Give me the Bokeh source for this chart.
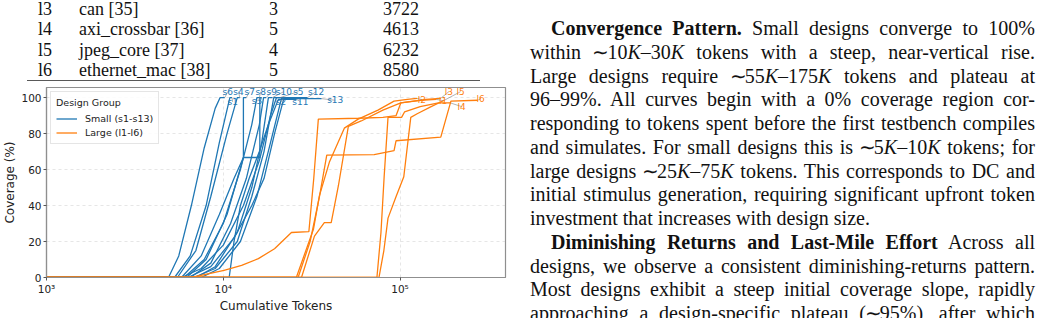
from bokeh.plotting import figure
from bokeh.models import Div, Legend, LegendItem, FixedTicker
from bokeh.layouts import row, column
from bokeh.embed import file_html
from bokeh.resources import INLINE
from bokeh.core.properties import value

# ---------------------------------------------------------------------------
# Coverage traces: cumulative tokens (thousands) vs. functional coverage (%)
# ---------------------------------------------------------------------------
small_names = ["s1", "s2", "s3", "s4", "s5", "s6", "s7", "s8", "s9", "s10", "s11", "s12", "s13"]
large_names = ["l1", "l2", "l3", "l4", "l5", "l6"]

tokens_k = {
    "s1":  [1, 5.3, 6.5, 8.0, 9.5, 10.9, 11.2],
    "s2":  [1, 7.5, 9.5, 12.5, 15.5, 18.5, 21.4, 22.0],
    "s3":  [1, 6.2, 8.0, 10.5, 13.0, 16.1, 16.1, 16.5],
    "s4":  [1, 5.5, 7.0, 8.5, 10.5, 12.0, 12.4],
    "s5":  [1, 6.8, 9.0, 12.0, 14.5, 17.0, 19.3, 21.0],
    "s6":  [1, 4.9, 5.6, 6.6, 7.8, 9.0, 9.6, 10.2],
    "s7":  [1, 5.8, 7.5, 9.5, 11.5, 13.0, 13.0, 13.5],
    "s8":  [1, 6.0, 7.8, 10.0, 12.5, 14.5, 15.5, 16.0],
    "s9":  [1, 6.5, 8.5, 11.0, 13.5, 16.0, 16.9, 17.5],
    "s10": [1, 7.0, 9.0, 12.0, 14.5, 16.5, 18.0, 19.0],
    "s11": [1, 10.8, 11.5, 12.5, 14.0, 16.0, 18.0, 20.5, 26.0],
    "s12": [1, 5.8, 7.5, 10.0, 13.0, 16.0, 18.5, 20.0, 30.0],
    "s13": [1, 6.3, 8.5, 11.5, 14.5, 17.0, 19.5, 22.0, 36.0],
    "l1":  [1, 6.6, 10.1, 12.7, 15.8, 19.5, 24.3, 30.5, 32.5, 34.5, 58.0, 80.0, 95.0, 101.0, 131.0, 160.0],
    "l2":  [1, 25.9, 32.4, 35.0, 39.8, 48.4, 58.0, 75.0, 92.5, 110.0, 125.0],
    "l3":  [1, 27.7, 32.8, 37.3, 40.8, 44.8, 51.0, 60.3, 80.0, 101.0, 140.0, 170.0],
    "l4":  [1, 74.0, 78.0, 81.3, 85.5, 102.0, 106.0, 130.0, 165.0, 193.0],
    "l5":  [1, 76.0, 81.0, 85.5, 95.0, 105.0, 115.0, 125.0, 150.0, 178.0],
    "l6":  [1, 26.5, 31.0, 35.0, 38.5, 71.4, 92.5, 94.9, 170.0, 194.0, 275.0],
}

coverage = {
    "s1":  [0, 0, 12, 40, 75, 100, 100],
    "s2":  [0, 0, 5, 20, 45, 75, 100, 100],
    "s3":  [0, 0, 10, 35, 66.7, 66.7, 100, 100],
    "s4":  [0, 0, 15, 45, 80, 100, 100],
    "s5":  [0, 0, 5, 20, 45, 70, 100, 100],
    "s6":  [0, 0, 12, 40, 72, 94, 100, 100],
    "s7":  [0, 0, 12, 35, 55, 66.7, 100, 100],
    "s8":  [0, 0, 10, 30, 60, 85, 100, 100],
    "s9":  [0, 0, 8, 30, 55, 85, 100, 100],
    "s10": [0, 0, 6, 25, 50, 75, 100, 100],
    "s11": [0, 0, 20, 40, 55, 70, 85, 99, 99],
    "s12": [0, 0, 5, 18, 40, 65, 90, 100, 100],
    "s13": [0, 0, 6, 22, 40, 55, 80, 99.4, 99.4],
    "l1":  [0, 0, 4, 6.7, 10.5, 16, 25, 25.5, 55, 88, 88.5, 89, 90, 97, 98.5, 99],
    "l2":  [0, 0, 27, 45.5, 64, 83, 88, 93, 98, 99, 99.5],
    "l3":  [0, 0, 23, 30.5, 30.5, 51, 84, 87, 93, 97, 99, 99.6],
    "l4":  [0, 0, 25, 56, 89, 89, 92, 95, 97, 97],
    "l5":  [0, 0, 15, 33, 45, 56, 89, 91, 95, 98.5],
    "l6":  [0, 0, 20, 45, 68, 68.3, 70.5, 76, 78, 98, 98.5],
}

# where each design's name is written (tokens in thousands, coverage %)
label_at = {
    "s1": (11.3, 97.6), "s2": (21.2, 97.6), "s3": (15.5, 98.0), "s4": (12.2, 103.3),
    "s5": (26.6, 103.3), "s6": (10.6, 103.3), "s7": (14.1, 103.3), "s8": (16.3, 103.3),
    "s9": (18.8, 103.3), "s10": (22.0, 103.3), "s11": (27.3, 97.8), "s12": (33.5, 103.3),
    "s13": (43.0, 98.5),
    "l1": (175.0, 98.3), "l2": (133.0, 98.9), "l3": (189.0, 103.3), "l4": (223.0, 95.0),
    "l5": (220.0, 103.3), "l6": (286.0, 99.4),
}

BLUE = "#1f77b4"
ORANGE = "#ff7f0e"
AXIS_GREY = "#8f8f8f"

p = figure(
    width=515, height=238,
    x_axis_type="log", x_range=(1000, 395000), y_range=(0, 105.6),
    output_backend="svg", toolbar_location=None,
    min_border_left=44, min_border_right=10, min_border_top=7, min_border_bottom=41,
    background_fill_color="white", border_fill_color="white",
)
p.outline_line_color = AXIS_GREY
p.outline_line_width = 1.2

renderers = {}
for name in small_names + large_names:
    colour = BLUE if name.startswith("s") else ORANGE
    xs = [t * 1000 for t in tokens_k[name]]
    renderers[name] = p.line(xs, coverage[name], line_color=colour, line_width=1.3)

# name tags with thin leader lines back to each trace's final point
for name in small_names + large_names:
    colour = BLUE if name.startswith("s") else ORANGE
    lx, ly = label_at[name]
    ex, ey = tokens_k[name][-1], coverage[name][-1]
    p.line([ex * 1000, lx * 1000], [ey, ly], line_color="#7f7f7f", line_width=0.6)
    p.text([lx * 1000], [ly], text=[name], text_color=colour,
           text_font=value("DejaVu Sans"), text_font_size="9px",
           text_align="center", text_baseline="middle")

# axes
p.xaxis.ticker = FixedTicker(ticks=[1000, 10000, 100000])
p.xaxis.major_label_overrides = {1000: "10³", 10000: "10⁴", 100000: "10⁵"}
p.yaxis.ticker = FixedTicker(ticks=[0, 20, 40, 60, 80, 100])
p.xaxis.axis_label = "Cumulative Tokens"
p.yaxis.axis_label = "Coverage (%)"
for ax in (p.xaxis[0], p.yaxis[0]):
    ax.axis_line_color = AXIS_GREY
    ax.axis_line_width = 1.2
    ax.major_tick_line_color = "#555555"
    ax.major_tick_in = 0
    ax.major_tick_out = 3
    ax.minor_tick_line_color = None
    ax.major_label_text_font = "DejaVu Sans"
    ax.major_label_text_font_size = "10.5px"
    ax.major_label_text_color = "#222222"
    ax.axis_label_text_font = "DejaVu Sans"
    ax.axis_label_text_font_size = "12px"
    ax.axis_label_text_font_style = "normal"
    ax.axis_label_text_color = "#222222"
    ax.major_label_standoff = 2
    ax.axis_label_standoff = 1

for g in (p.xgrid[0], p.ygrid[0]):
    g.grid_line_color = "#b0b0b0"
    g.grid_line_alpha = 0.45
    g.grid_line_dash = "3 3"
    g.grid_line_width = 0.7

legend = Legend(
    items=[LegendItem(label="Small (s1-s13)", renderers=[renderers["s1"]]),
           LegendItem(label="Large (l1-l6)", renderers=[renderers["l1"]])],
    location="top_left", title="Design Group",
)
legend.title_text_font = "DejaVu Sans"
legend.title_text_font_size = "9.5px"
legend.title_text_font_style = "normal"
legend.title_text_color = "#222222"
legend.label_text_font = "DejaVu Sans"
legend.label_text_font_size = "9.5px"
legend.label_text_color = "#222222"
legend.label_height = 11
legend.glyph_height = 11
legend.glyph_width = 21
legend.label_standoff = 8
legend.spacing = 3
legend.padding = 5
legend.margin = 4
legend.border_line_color = "#cccccc"
legend.background_fill_alpha = 0.85
p.add_layout(legend)

# ---------------------------------------------------------------------------
# Table fragment above the chart
# ---------------------------------------------------------------------------
table_ids = ["l3", "l4", "l5", "l6"]
table_designs = ["can [35]", "axi_crossbar [36]", "jpeg_core [37]", "ethernet_mac [38]"]
table_modules = ["3", "5", "4", "5"]
table_lines = ["3722", "4613", "6232", "8580"]

serif = "font-family:'Liberation Serif','Times New Roman',serif;"
cells = []
for i in range(len(table_ids)):
    top = -1.5 + i * 20.6
    cells.append(f"<span style='position:absolute;left:38px;top:{top:.1f}px'>{table_ids[i]}</span>")
    cells.append(f"<span style='position:absolute;left:79px;top:{top:.1f}px'>{table_designs[i]}</span>")
    cells.append(f"<span style='position:absolute;left:269px;top:{top:.1f}px'>{table_modules[i]}</span>")
    cells.append(f"<span style='position:absolute;left:383px;top:{top:.1f}px'>{table_lines[i]}</span>")
cells.append("<div style='position:absolute;left:27px;top:80px;width:453px;height:0;border-top:1.4px solid #222'></div>")
table_html = (f"<div style=\"position:relative;width:515px;height:82px;overflow:hidden;{serif}"
              f"font-size:18px;line-height:21px;color:#111;\">" + "".join(cells) + "</div>")
table_div = Div(text=table_html, width=515, height=80, margin=0)

# ---------------------------------------------------------------------------
# Running text in the right-hand column
# ---------------------------------------------------------------------------
K = "<i>K</i>"
SIM = "<span style='margin:0 -2px 0 -1px'>∼</span>"
text_lines = [
    ("<b>Convergence Pattern.</b> Small designs converge to 100%", True, True),
    (f"within {SIM}10{K}–30{K} tokens with a steep, near-vertical rise.", False, True),
    (f"Large designs require {SIM}55{K}–175{K} tokens and plateau at", False, True),
    ("96–99%. All curves begin with a 0% coverage region cor-", False, True),
    ("responding to tokens spent before the first testbench compiles", False, True),
    (f"and simulates. For small designs this is {SIM}5{K}–10{K} tokens; for", False, True),
    (f"large designs {SIM}25{K}–75{K} tokens. This corresponds to DC and", False, True),
    ("initial stimulus generation, requiring significant upfront token", False, True),
    ("investment that increases with design size.", False, False),
    ("<b>Diminishing Returns and Last-Mile Effort</b> Across all", True, True),
    ("designs, we observe a consistent diminishing-returns pattern.", False, True),
    ("Most designs exhibit a steep initial coverage slope, rapidly", False, True),
    (f"approaching a design-specific plateau ({SIM}95%), after which", False, True),
]
parts = []
for i, (txt, indent, justify) in enumerate(text_lines):
    top = 29 + i * 23.75 - 13
    left = 15 + (21 if indent else 0)
    width = 505 - (21 if indent else 0)
    align = "text-align:justify;text-align-last:justify;" if justify else "text-align:left;"
    parts.append(f"<div style='position:absolute;left:{left}px;top:{top:.2f}px;width:{width}px;{align}'>{txt}</div>")
text_html = (f"<div style=\"position:relative;width:525px;height:318px;overflow:hidden;{serif}"
             f"font-size:20px;line-height:24px;color:#111;\">" + "".join(parts) + "</div>")
text_div = Div(text=text_html, width=525, height=318, margin=0)

layout = row(column(table_div, p, spacing=0), text_div, spacing=0)

with open("out.html", "w") as f:
    f.write(file_html(layout, INLINE))
